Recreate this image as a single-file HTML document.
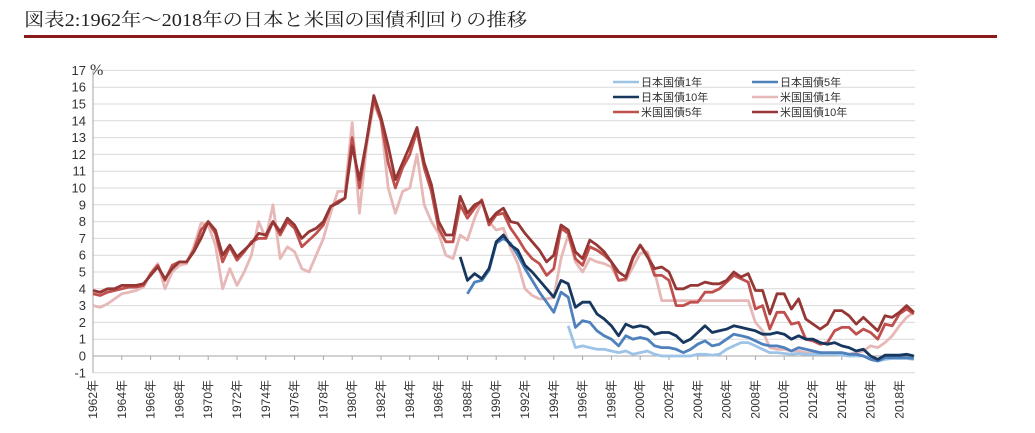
<!DOCTYPE html>
<html><head><meta charset="utf-8"><style>
body{margin:0;background:#fff;width:1035px;height:433px;overflow:hidden;font-family:"Liberation Sans","Noto Sans CJK JP",sans-serif}
svg{position:absolute;left:0;top:0}
</style></head><body>
<svg id="chart" width="1035" height="433" xmlns="http://www.w3.org/2000/svg">
<text x="24" y="26" font-size="18" textLength="503" lengthAdjust="spacingAndGlyphs" font-family="Liberation Serif,Noto Serif CJK SC,serif" fill="#222">図表2:1962年～2018年の日本と米国の国債利回りの推移</text>
<rect x="24" y="35" width="973" height="3" fill="#8b1a1a"/>
<g id="grid"></g><g id="series"></g><g id="legend"></g>
</svg>
<script>
const yTicks=[17,16,15,14,13,12,11,10,9,8,7,6,5,4,3,2,1,0,-1];
const xLabelYears=[1962,1964,1966,1968,1970,1972,1974,1976,1978,1980,1982,1984,1986,1988,1990,1992,1994,1996,1998,2000,2002,2004,2006,2008,2010,2012,2014,2016,2018];
const seriesNames=["日本国債1年","日本国債5年","日本国債10年","米国国債1年","米国国債5年","米国国債10年"];
const startYears=[1995,1988,1987.5,1962,1962,1962];
const us10=[3.9,3.8,4.0,4.0,4.2,4.2,4.2,4.3,4.8,5.3,4.6,5.2,5.6,5.6,6.2,7.0,8.0,7.5,6.0,6.6,5.9,6.3,6.7,7.3,7.2,8.0,7.4,8.2,7.8,7.0,7.4,7.6,8.0,8.9,9.1,9.4,12.5,10.5,12.8,15.5,14.2,12.5,10.5,11.5,12.5,13.6,11.5,10.2,8.0,7.2,7.2,9.5,8.5,9.0,9.2,8.0,8.5,8.8,8.0,7.9,7.3,6.8,6.3,5.6,6.0,7.8,7.5,6.2,5.8,6.9,6.6,6.2,5.6,5.0,4.7,5.9,6.6,5.9,5.2,5.3,5.0,4.0,4.0,4.2,4.2,4.4,4.3,4.3,4.5,5.0,4.7,4.9,3.9,3.9,2.5,3.7,3.7,2.8,3.4,2.2,1.9,1.6,1.9,2.7,2.7,2.4,1.9,2.3,1.9,1.5,2.4,2.3,2.6,3.0,2.6];
const us5=[3.7,3.6,3.8,3.9,4.0,4.1,4.1,4.2,4.9,5.4,4.5,5.4,5.6,5.6,6.3,7.5,8.0,7.3,5.6,6.5,5.7,6.2,6.8,7.0,7.0,8.0,7.2,8.0,7.6,6.5,6.9,7.3,7.8,8.9,9.2,9.4,13.0,10.0,12.8,15.3,14.0,11.5,10.0,11.2,12.0,13.4,11.2,9.8,7.6,6.8,6.8,9.0,8.2,8.8,9.3,7.8,8.4,8.5,7.6,7.0,6.3,5.8,5.5,4.8,5.2,7.6,7.3,5.8,5.4,6.5,6.3,6.0,5.6,4.5,4.6,5.8,6.6,6.0,4.8,4.8,4.5,3.0,3.0,3.2,3.2,3.8,3.8,4.0,4.4,4.8,4.6,4.4,2.8,3.0,1.6,2.6,2.6,1.9,2.0,1.0,0.9,0.7,0.8,1.5,1.7,1.7,1.3,1.6,1.4,1.0,1.9,1.8,2.5,2.8,2.5];
const us1=[3.0,2.9,3.1,3.4,3.7,3.8,3.9,4.1,4.9,5.5,4.0,5.0,5.4,5.5,6.5,7.9,7.8,6.6,4.0,5.2,4.2,5.0,6.0,8.0,7.0,9.0,5.8,6.5,6.2,5.2,5.0,6.0,7.0,8.5,9.8,9.8,13.9,8.5,12.5,15.0,14.0,10.0,8.5,9.8,10.0,12.0,9.0,8.0,7.3,6.0,5.8,7.2,6.9,8.2,9.2,8.0,7.5,7.6,6.4,5.5,4.0,3.6,3.4,3.4,3.5,5.8,7.2,5.6,5.0,5.8,5.6,5.5,5.3,4.5,4.5,5.3,6.1,6.2,5.0,3.3,3.3,3.3,3.3,3.3,3.3,3.3,3.3,3.3,3.3,3.3,3.3,3.3,2.0,1.5,0.5,0.4,0.4,0.3,0.3,0.2,0.15,0.2,0.15,0.12,0.12,0.1,0.2,0.3,0.6,0.5,0.8,1.2,1.8,2.3,2.6];
const jp10=[5.9,4.5,4.9,4.6,5.2,6.8,7.2,6.6,6.3,5.4,5.0,4.5,4.0,3.5,4.5,4.3,2.9,3.2,3.2,2.5,2.2,1.8,1.2,1.9,1.7,1.8,1.7,1.3,1.4,1.4,1.2,0.8,1.0,1.4,1.8,1.4,1.5,1.6,1.8,1.7,1.6,1.5,1.3,1.3,1.4,1.3,1.0,1.2,1.0,1.0,0.8,0.7,0.8,0.6,0.5,0.3,0.4,0.0,-0.2,0.05,0.05,0.05,0.1,0.0];
const jp5=[3.7,4.4,4.5,5.1,6.7,7.0,6.7,6.0,5.2,4.5,3.8,3.2,2.6,3.8,3.5,1.7,2.1,2.0,1.5,1.2,1.0,0.6,1.2,1.0,1.1,1.0,0.6,0.5,0.5,0.4,0.2,0.4,0.7,0.9,0.6,0.7,1.0,1.3,1.2,1.1,0.9,0.7,0.6,0.6,0.5,0.3,0.5,0.4,0.3,0.2,0.2,0.2,0.2,0.1,0.1,0.0,-0.2,-0.3,-0.1,-0.1,-0.1,-0.1,-0.15];
const jp1=[1.8,0.5,0.6,0.5,0.4,0.4,0.3,0.2,0.3,0.1,0.2,0.3,0.1,0.0,0.0,0.0,0.0,0.0,0.1,0.1,0.05,0.1,0.4,0.6,0.8,0.8,0.6,0.4,0.2,0.2,0.15,0.1,0.15,0.1,0.1,0.1,0.1,0.1,0.05,0.0,0.0,0.0,-0.2,-0.3,-0.2,-0.15,-0.15,-0.15,-0.2];
const seriesValues=[jp1,jp5,jp10,us1,us5,us10];
const colors=["#9dc3e6","#4f81bd","#17375e","#e6b8b7","#c0504d","#953735"];
const NS="http://www.w3.org/2000/svg";
const X0=93,PXY=14.4,Y0=356,PXV=16.8,STEP=0.5;
const xs=y=>X0+(y-1962)*PXY, ys=v=>Y0-v*PXV;
const grid=document.getElementById('grid');
function mk(tag,attrs,parent){const e=document.createElementNS(NS,tag);for(const k in attrs)e.setAttribute(k,attrs[k]);parent.appendChild(e);return e;}
yTicks.forEach(t=>{
  const l=mk('line',{x1:X0,x2:915,y1:ys(t),y2:ys(t),stroke:t===0?'#a6a6a6':'#d9d9d9','stroke-width':1},grid);
  
  
  const tx=mk('text',{x:86,y:ys(t)+4.5,'text-anchor':'end','font-size':13,fill:'#333'},grid);
  tx.textContent=t;
  
  
});
const pct=mk('text',{x:90,y:75,'font-size':16,fill:'#333','font-family':'Liberation Serif,serif'},grid);pct.textContent='%';


const ax=mk('line',{x1:X0,x2:X0,y1:ys(17),y2:ys(-1),stroke:'#a6a6a6'},grid);


xLabelYears.forEach(yr=>{
  const x=xs(yr);
  const tk=mk('line',{x1:x,x2:x,y1:Y0,y2:Y0+4,stroke:'#a6a6a6'},grid);
  
  
  const t=mk('text',{x:0,y:0,'font-size':12,fill:'#333','text-anchor':'end',transform:`translate(${x+4},380) rotate(-90)`},grid);
  t.textContent=yr+'年';
  
  
});
const sg=document.getElementById('series');
const order=[3,4,5,0,1,2];
order.forEach(i=>{
  const vals=seriesValues[i];
  const pts=vals.map((v,k)=>xs(startYears[i]+k*STEP).toFixed(1)+','+ys(v).toFixed(1)).join(' ');
  const p=mk('polyline',{points:pts,fill:'none',stroke:colors[i],'stroke-width':2.8,'stroke-linejoin':'round'},sg);
  
  
});
const lg=document.getElementById('legend');
seriesNames.forEach((n,i)=>{
  const x=i%2?752:613, y=82+Math.floor(i/2)*15;
  const l=mk('line',{x1:x,x2:x+26,y1:y,y2:y,stroke:colors[i],'stroke-width':2.6},lg);
  
  
  const t=mk('text',{x:x+28,y:y+4,'font-size':11,fill:'#333'},lg);
  t.textContent=n;
  
  
});
</script>
</body></html>
